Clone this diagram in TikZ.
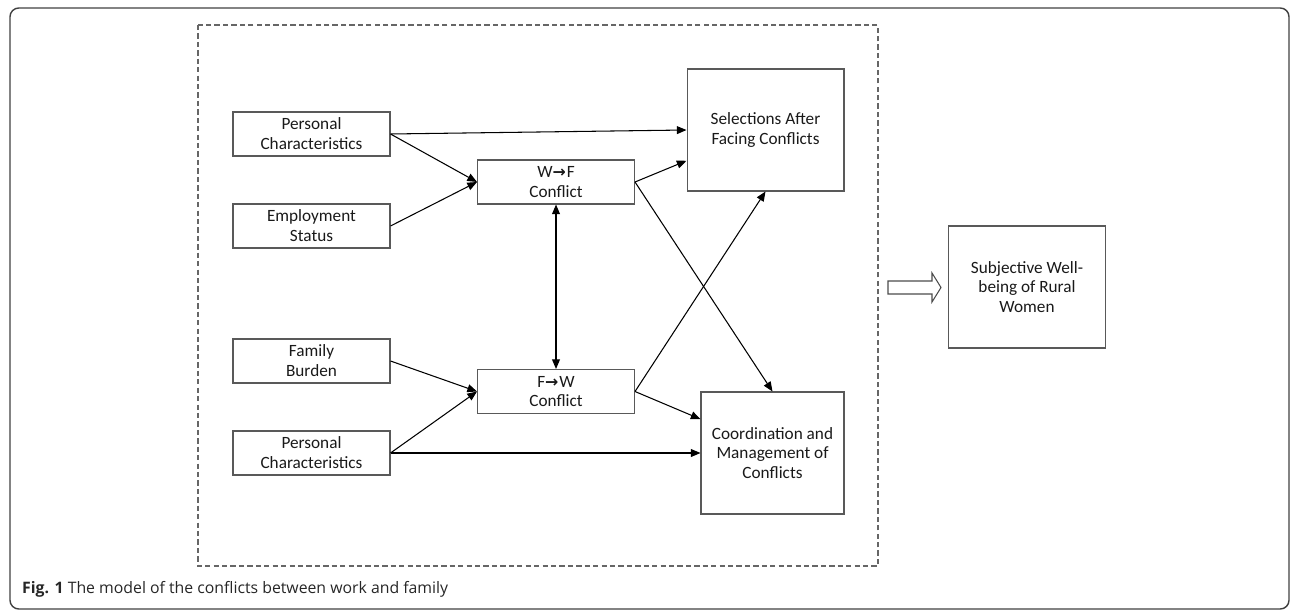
\documentclass[tikz,border=0pt]{standalone}
\usepackage{fontspec}
\setmainfont{Carlito}
\newfontfamily\capfont{Open Sans}
\newfontfamily\symfont{DejaVu Sans}
\usetikzlibrary{arrows.meta,calc}
\newcommand{\rarr}{{\symfont\bfseries\fontsize{9}{9}\selectfont →}\kern0.5pt}
\begin{document}
\begin{tikzpicture}[x=0.02cm,y=-0.02cm,
	box/.style={draw=black!65,line width=0.6pt,minimum width=3.14cm,minimum height=0.88cm,inner sep=0pt,align=center,text=black!90,font=\fontsize{9.8}{11.3}\selectfont},
	bigbox/.style={box,minimum height=2.44cm},
	conn/.style={-{Triangle[length=5.5pt,width=4.5pt]},line width=0.6pt},
	both/.style={{Triangle[length=5.5pt,width=4.5pt]}-{Triangle[length=5.5pt,width=4.5pt]},line width=0.6pt}]
	\useasboundingbox (0,0) rectangle (1290,611);
	% outer frame and the dashed model area
	\draw[black!75,line width=0.8pt,rounded corners=5] (10,8) rectangle (1289,609);
	\draw[black!60,line width=0.6pt,dash pattern=on 3pt off 1.8pt] (198,25) rectangle (878,566);
	% left column
	\node[box] (pc1) at (311.5,134) {Personal\\Characteristics};
	\node[box] (emp) at (311.5,226) {Employment\\Status};
	\node[box] (fam) at (311.5,361) {Family\\Burden};
	\node[box] (pc2) at (311.5,453) {Personal\\Characteristics};
	% conflicts
	\node[box] (wf) at (556,182) {W\rarr F\\Conflict};
	\node[box] (fw) at (556,391.5) {F\rarr W\\Conflict};
	% outcomes
	\node[bigbox] (sel) at (765.5,130) {Selections After\\Facing Conflicts};
	\node[bigbox,minimum width=2.86cm] (coord) at (772.5,453) {Coordination and\\Management of\\Conflicts};
	\node[bigbox] (swb) at (1027,287) {Subjective Well-\\being of Rural\\Women};
	% hollow arrow
	\draw[black!70,line width=0.6pt] (888,281) -- (932,281) -- (932,273) -- (941,287.5) -- (932,302) -- (932,294) -- (888,294) -- cycle;
	% paths
	\draw[conn] (pc1.east) -- (sel.west);
	\draw[conn] (pc1.east) -- (wf.west);
	\draw[conn] (emp.east) -- (wf.west);
	\draw[conn] (wf.east) -- ($(sel.west)!0.5!(sel.south west)$);
	\draw[conn] (wf.east) -- (coord.north);
	\draw[both] (wf.south) -- (fw.north);
	\draw[conn] (fam.east) -- (fw.west);
	\draw[conn] (pc2.east) -- (fw.west);
	\draw[conn] (pc2.east) -- (coord.west);
	\draw[conn] (fw.east) -- (sel.south);
	\draw[conn] (fw.east) -- ($(coord.north west)!0.45!(coord.west)$);
	% caption
	\node[anchor=west,text=black!85,font=\capfont\fontsize{9}{10}\selectfont] (cap) at (16,589) {\textbf{Fig. 1} The model of the conflicts between work and family};
\end{tikzpicture}
\end{document}
